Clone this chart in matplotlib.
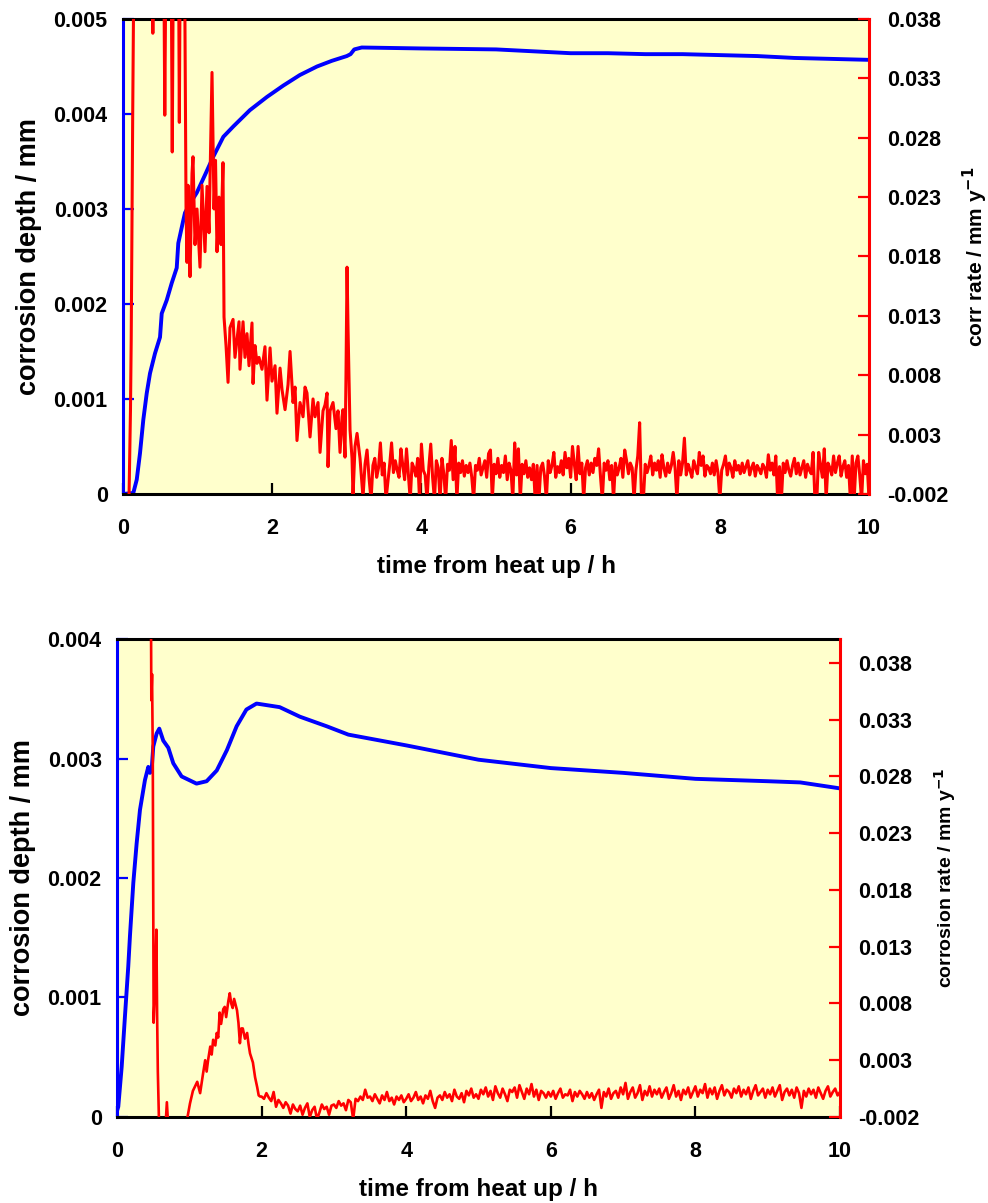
import matplotlib
matplotlib.use("Agg")
import matplotlib.pyplot as plt
import numpy as np

plt.rcParams['font.family'] = ['Liberation Sans', 'DejaVu Sans']
plt.rcParams['font.weight'] = 'bold'
plt.rcParams['axes.labelweight'] = 'bold'

BLUE = '#0000FF'
RED = '#FF0000'
BG = '#FFFFCC'

# ---------------- top panel data ----------------
top_depth_t = [0.0, 0.138, 0.184, 0.228, 0.272, 0.318, 0.362, 0.429, 0.496, 0.519,
               0.586, 0.653, 0.72, 0.741, 0.808, 0.831, 0.90, 0.988, 1.10, 1.21,
               1.345, 1.48, 1.70, 1.93, 2.15, 2.37, 2.6, 2.8, 3.0, 3.05,
               3.1, 3.2, 4.0, 5.0, 5.5, 6.0, 6.5, 7.0, 7.5, 8.0,
               8.5, 9.0, 9.5, 10.0]
top_depth = [0.0, 0.00001, 0.00015, 0.00043, 0.00078, 0.00106, 0.00127, 0.00148, 0.00165, 0.0019,
             0.00204, 0.00222, 0.00238, 0.00264, 0.00288, 0.00296, 0.00306, 0.00317, 0.00336, 0.00355,
             0.00376, 0.00387, 0.00404, 0.00418, 0.0043, 0.00441, 0.0045, 0.00456, 0.00461, 0.00463,
             0.00468, 0.0047, 0.00469, 0.00468, 0.00466, 0.00464, 0.00464, 0.00463, 0.00463, 0.00462,
             0.00461, 0.00459, 0.00458, 0.00457]

top_rate_t = [0.00, 0.08, 0.10, 0.11, 0.13, 0.15, 0.25, 0.38, 0.40, 0.42,
              0.54, 0.56, 0.58, 0.64, 0.66, 0.68, 0.74, 0.755, 0.77, 0.80,
              0.83, 0.845, 0.858, 0.871, 0.885, 0.898, 0.925, 0.938, 0.965, 0.992,
              1.032, 1.059, 1.099, 1.126, 1.153, 1.193, 1.220, 1.240, 1.260, 1.287,
              1.314, 1.327, 1.340, 1.354, 1.381, 1.408, 1.434, 1.475, 1.501, 1.528,
              1.555, 1.568, 1.609, 1.635, 1.662, 1.689, 1.729, 1.743, 1.769, 1.796,
              1.823, 1.863, 1.903, 1.930, 1.971, 1.997, 2.038, 2.064, 2.105, 2.131,
              2.172, 2.212, 2.239, 2.279, 2.306, 2.332, 2.373, 2.413, 2.440, 2.466,
              2.507, 2.547, 2.574, 2.614, 2.641, 2.681, 2.708, 2.735, 2.748, 2.775,
              2.815, 2.855, 2.882, 2.909, 2.936, 2.949, 2.976, 2.989, 3.003, 3.016,
              3.043, 3.070, 3.083, 3.110, 3.137, 3.177, 3.217, 3.244, 3.271]
top_rate = [-0.003, -0.0025, 0.005, 0.011, 0.030, 0.046, 0.050, 0.048, 0.0368, 0.049,
            0.050, 0.0299, 0.048, 0.050, 0.0268, 0.049, 0.050, 0.0293, 0.047, 0.044,
            0.038, 0.022, 0.0175, 0.024, 0.019, 0.0163, 0.025, 0.0264, 0.019, 0.022,
            0.0171, 0.024, 0.0184, 0.0239, 0.020, 0.0335, 0.022, 0.0261, 0.0184, 0.023,
            0.019, 0.0228, 0.0259, 0.0129, 0.0105, 0.0074, 0.012, 0.0127, 0.0095, 0.011,
            0.0125, 0.0085, 0.0125, 0.0095, 0.0115, 0.0088, 0.0124, 0.0073, 0.0105, 0.009,
            0.0095, 0.0085, 0.0104, 0.0059, 0.0103, 0.0075, 0.0088, 0.0048, 0.0086, 0.0068,
            0.0051, 0.0072, 0.0100, 0.0057, 0.0070, 0.0025, 0.0057, 0.0045, 0.0070, 0.0065,
            0.0028, 0.0060, 0.0045, 0.0057, 0.0015, 0.0050, 0.0055, 0.0065, 0.0003, 0.0050,
            0.0057, 0.0035, 0.0050, 0.0015, 0.0045, 0.0051, 0.0011, 0.0080, 0.0171, 0.0120,
            0.0034, 0.0010, -0.0022, 0.0020, 0.0031, 0.0010, -0.0023, 0.0005, 0.0017]

# later part, every 0.025 h from 3.3 to 10 h, in units of 1e-4 mm/y
top_rate_tail = [
    -8, -25, 4, 10, -6, 2, 23, -4, 6, -25,
    -10, 5, 23, -2, 8, 0, -6, 18, 4, -8,
    18, -3, -25, 6, 2, -5, 10, -25, 22, 0,
    -4, -25, 3, 22, -6, -25, 8, 2, -25, 10,
    -3, -25, 5, 0, 25, -8, 20, -25, 6, -2,
    8, -5, 4, -2, 6, -6, -25, 4, 0, 10,
    -4, 2, 8, -6, 14, 17, -25, 5, -3, 10,
    -6, 4, -2, 12, -8, 6, 0, -25, 23, -4,
    18, -25, 5, -3, 8, -6, 2, -8, 5, -25,
    4, -25, 2, 6, -5, -25, 8, -2, 4, 15,
    -6, 3, -2, 8, -4, 15, 2, 10, -6, 20,
    5, -8, 20, -3, 6, -25, 2, 8, -4, 6,
    -2, 10, 4, 18, -5, -25, 6, 0, 8, -8,
    4, -25, 6, -4, 2, 10, -6, 17, 8, -3,
    6, 2, -25, 0, 12, 40, -25, -25, 5, -2,
    4, 12, -4, 6, 0, 8, -6, 13, 2, -5,
    6, -2, 4, 15, 2, -25, 8, -4, 6, 27,
    -4, 5, 0, -6, 8, 2, -3, 15, 4, 12,
    -5, 4, 2, -3, 6, -4, 8, -2, -25, 0,
    5, 12, -4, 6, 2, -6, 8, 0, 4, -3,
    6, -2, 3, 8, -4, 2, 6, -5, 4, 1,
    -3, 5, 2, -6, 13, 0, 6, -4, 12, -25,
    3, -25, 6, -2, 8, 0, -5, 4, 10, -3,
    6, -4, 2, 8, -6, 5, 0, -3, 15, -25,
    -25, 15, 4, -6, 18, -25, 6, 2, -4, 12,
    -2, 6, 12, -5, 3, 8, -6, 4, -25, 12,
    -25, 6, 12, -4, -25, 8, -3, 5, -25]

# ---------------- bottom panel data ----------------
bot_depth_t = [0.0, 0.018, 0.065, 0.11, 0.156, 0.18, 0.226, 0.272, 0.318, 0.387,
               0.433, 0.456, 0.479, 0.502, 0.549, 0.585, 0.64, 0.71, 0.779, 0.894,
               1.10, 1.24, 1.38, 1.52, 1.655, 1.79, 1.93, 2.25, 2.53, 2.9,
               3.2, 4.0, 5.0, 6.0, 7.0, 8.0, 9.0, 9.45, 10.0]
bot_depth = [0.00005, 0.000086, 0.00042, 0.00084, 0.00126, 0.00152, 0.00196, 0.00229, 0.00257, 0.00282,
             0.00293, 0.00288, 0.0029, 0.0031, 0.00321, 0.00325, 0.00315, 0.00309, 0.00296, 0.00285,
             0.00279, 0.00281, 0.0029, 0.00307, 0.00327, 0.00341, 0.00346, 0.00343, 0.00335, 0.00327,
             0.0032, 0.00311, 0.00299, 0.00292, 0.00288, 0.00283, 0.00281, 0.0028, 0.00275]

bot_rate_t = [0.46, 0.475, 0.485, 0.495, 0.502, 0.507, 0.53, 0.545, 0.555, 0.565,
              0.585, 0.67, 0.69, 0.71, 0.95, 0.97, 1.01, 1.05, 1.11, 1.15,
              1.19, 1.22, 1.24, 1.26, 1.29, 1.31, 1.33, 1.36, 1.38, 1.40,
              1.42, 1.44, 1.47, 1.49, 1.51, 1.54, 1.56, 1.58, 1.60, 1.62,
              1.64, 1.66, 1.68, 1.70, 1.72, 1.74, 1.77, 1.80, 1.82, 1.84,
              1.86, 1.88, 1.91, 1.94, 1.96, 1.98]
bot_rate = [0.060, 0.0347, 0.037, 0.030, 0.017, 0.0063, 0.010, 0.0145, 0.007, 0.002,
            -0.0035, -0.0030, -0.0007, -0.0030, -0.0030, -0.0022, -0.0008, 0.0003, 0.0011, 0.0001,
            0.0018, 0.0030, 0.0020, 0.0030, 0.0042, 0.0035, 0.0048, 0.0043, 0.0054, 0.0050,
            0.0072, 0.0062, 0.0075, 0.0077, 0.0068, 0.0082, 0.0089, 0.0080, 0.0076, 0.0084,
            0.0079, 0.0074, 0.0063, 0.0045, 0.0058, 0.0058, 0.0049, 0.0054, 0.0044, 0.0036,
            0.0032, 0.0028, 0.0015, 0.0006, -0.0001, -0.0002]

# later part, every 1/30 h from 2 to 10 h, in units of 1e-4 mm/y
bot_rate_tail = [
    -2, -4, 1, -3, -6, 2, -11, -5, -8, -12, -7, -10, -17, -9, -13,
    -15, -10, -18, -12, -8, -20, -14, -11, -22, -16, -9, -13, -11, -18, -10,
    -9, -12, -6, -10, -8, -14, -5, -7, -22, -4, -6, -2, -5, 4, -3,
    -2, -6, 0, -4, -8, -1, -5, 2, -6, -3, -9, -2, -5, -1, -7,
    -4, 0, -6, -3, 2, -5, -2, -8, -1, -4, 3, -6, -12, -3, -1,
    -5, 2, -3, 0, -6, 4, -2, -4, 1, -7, 3, -1, 5, -3, 0,
    -4, 4, 0, 6, -2, 3, -5, 7, 1, -3, 5, 0, -6, 4, 2,
    6, -3, 8, 2, -4, 5, 0, 9, -2, 4, -5, 3, 1, -3, 2,
    -2, 3, -4, 1, 5, -3, 0, -1, 4, -6, 2, -2, 3, 0, -4,
    2, -3, 1, -5, 0, 4, -12, 2, -2, 5, -4, 1, 3, -3, 6,
    0, 10, -4, 2, 6, -3, 1, 8, -5, 3, -1, 7, -2, 4, 0,
    5, -3, 2, 6, -4, 1, 8, -2, 3, -5, 4, 0, 6, -3, 2,
    7, -2, 4, 1, 9, -3, 5, 0, 6, -4, 3, 8, -1, 4, 2,
    -3, 5, 1, 7, -2, 4, 0, 6, -4, 3, 8, -1, 2, 5, -3,
    4, 0, 6, -2, 3, 8, -5, 2, 5, -1, 4, -3, 6, 1, -12,
    3, -2, 5, 0, 4, -3, 6, 1, -4, 3, 7, -2, 2, 5, -1,
    2]

x_ticks = [0, 2, 4, 6, 8, 10]
depth_ticks_top = [0, 0.001, 0.002, 0.003, 0.004, 0.005]
depth_labels_top = ['0', '0.001', '0.002', '0.003', '0.004', '0.005']
depth_ticks_bot = [0, 0.001, 0.002, 0.003, 0.004]
depth_labels_bot = ['0', '0.001', '0.002', '0.003', '0.004']
rate_ticks = [-0.002, 0.003, 0.008, 0.013, 0.018, 0.023, 0.028, 0.033, 0.038]
rate_labels = ['-0.002', '0.003', '0.008', '0.013', '0.018', '0.023', '0.028', '0.033', '0.038']

top_tail_t = np.linspace(3.3, 10.0, len(top_rate_tail))
bot_tail_t = np.linspace(2.0, 10.0, len(bot_rate_tail))

fig = plt.figure(figsize=(9.88, 12.03), dpi=100)


def panel(rect, dt, dv, rt, rv, dticks, dlabels, dmax, rmax, rlabel, rlabel_size, red_lw):
    ax = fig.add_axes(rect)
    ax.set_facecolor(BG)
    ax.plot(dt, dv, color=BLUE, lw=2.8, solid_joinstyle='round')
    ax.set_xlim(0, 10)
    ax.set_ylim(0, dmax)
    ax.set_xticks(x_ticks)
    ax.set_xticklabels([str(v) for v in x_ticks])
    ax.set_yticks(dticks)
    ax.set_yticklabels(dlabels)
    ax.tick_params(axis='x', direction='in', length=8, width=1.6, color='black',
                   labelsize=15.5, pad=17, top=False)
    ax.tick_params(axis='y', direction='in', length=8, width=1.6, color=BLUE,
                   labelsize=15.5, pad=11, right=False)
    for s in ['top', 'bottom']:
        ax.spines[s].set_color('black')
        ax.spines[s].set_linewidth(2.2)
    ax.spines['left'].set_color(BLUE)
    ax.spines['left'].set_linewidth(2.2)
    ax.spines['right'].set_visible(False)
    ax.set_xlabel('time from heat up / h', fontsize=17.5, labelpad=12)
    ax.set_ylabel('corrosion depth / mm', fontsize=19.5, labelpad=8)

    ax2 = ax.twinx()
    ax2.plot(rt, rv, color=RED, lw=red_lw)
    ax2.set_ylim(-0.002, rmax)
    ax2.set_yticks(rate_ticks)
    ax2.set_yticklabels(rate_labels)
    ax2.tick_params(axis='y', direction='in', length=8, width=1.6, color=RED,
                    labelsize=15.5, pad=13)
    for s in ['top', 'bottom', 'left']:
        ax2.spines[s].set_visible(False)
    ax2.spines['right'].set_color(RED)
    ax2.spines['right'].set_linewidth(2.2)
    ax2.set_ylabel(rlabel, fontsize=rlabel_size, labelpad=9)
    return ax, ax2


top_rt = list(top_rate_t) + list(top_tail_t)
top_rv = list(top_rate) + [v * 1e-4 for v in top_rate_tail]
panel([0.1245, 0.5894, 0.7551, 0.3948], top_depth_t, top_depth, top_rt, top_rv,
      depth_ticks_top, depth_labels_top, 0.005, 0.038,
      'corr rate / mm y$^{-1}$', 15, 2.2)

bot_rt = list(bot_rate_t) + list(bot_tail_t)
bot_rv = list(bot_rate) + [v * 1e-4 for v in bot_rate_tail]
panel([0.1184, 0.0715, 0.7318, 0.3973], bot_depth_t, bot_depth, bot_rt, bot_rv,
      depth_ticks_bot, depth_labels_bot, 0.004, 0.0401,
      'corrosion rate / mm y$^{-1}$', 14, 1.9)

fig.savefig('out.png', dpi=100)
